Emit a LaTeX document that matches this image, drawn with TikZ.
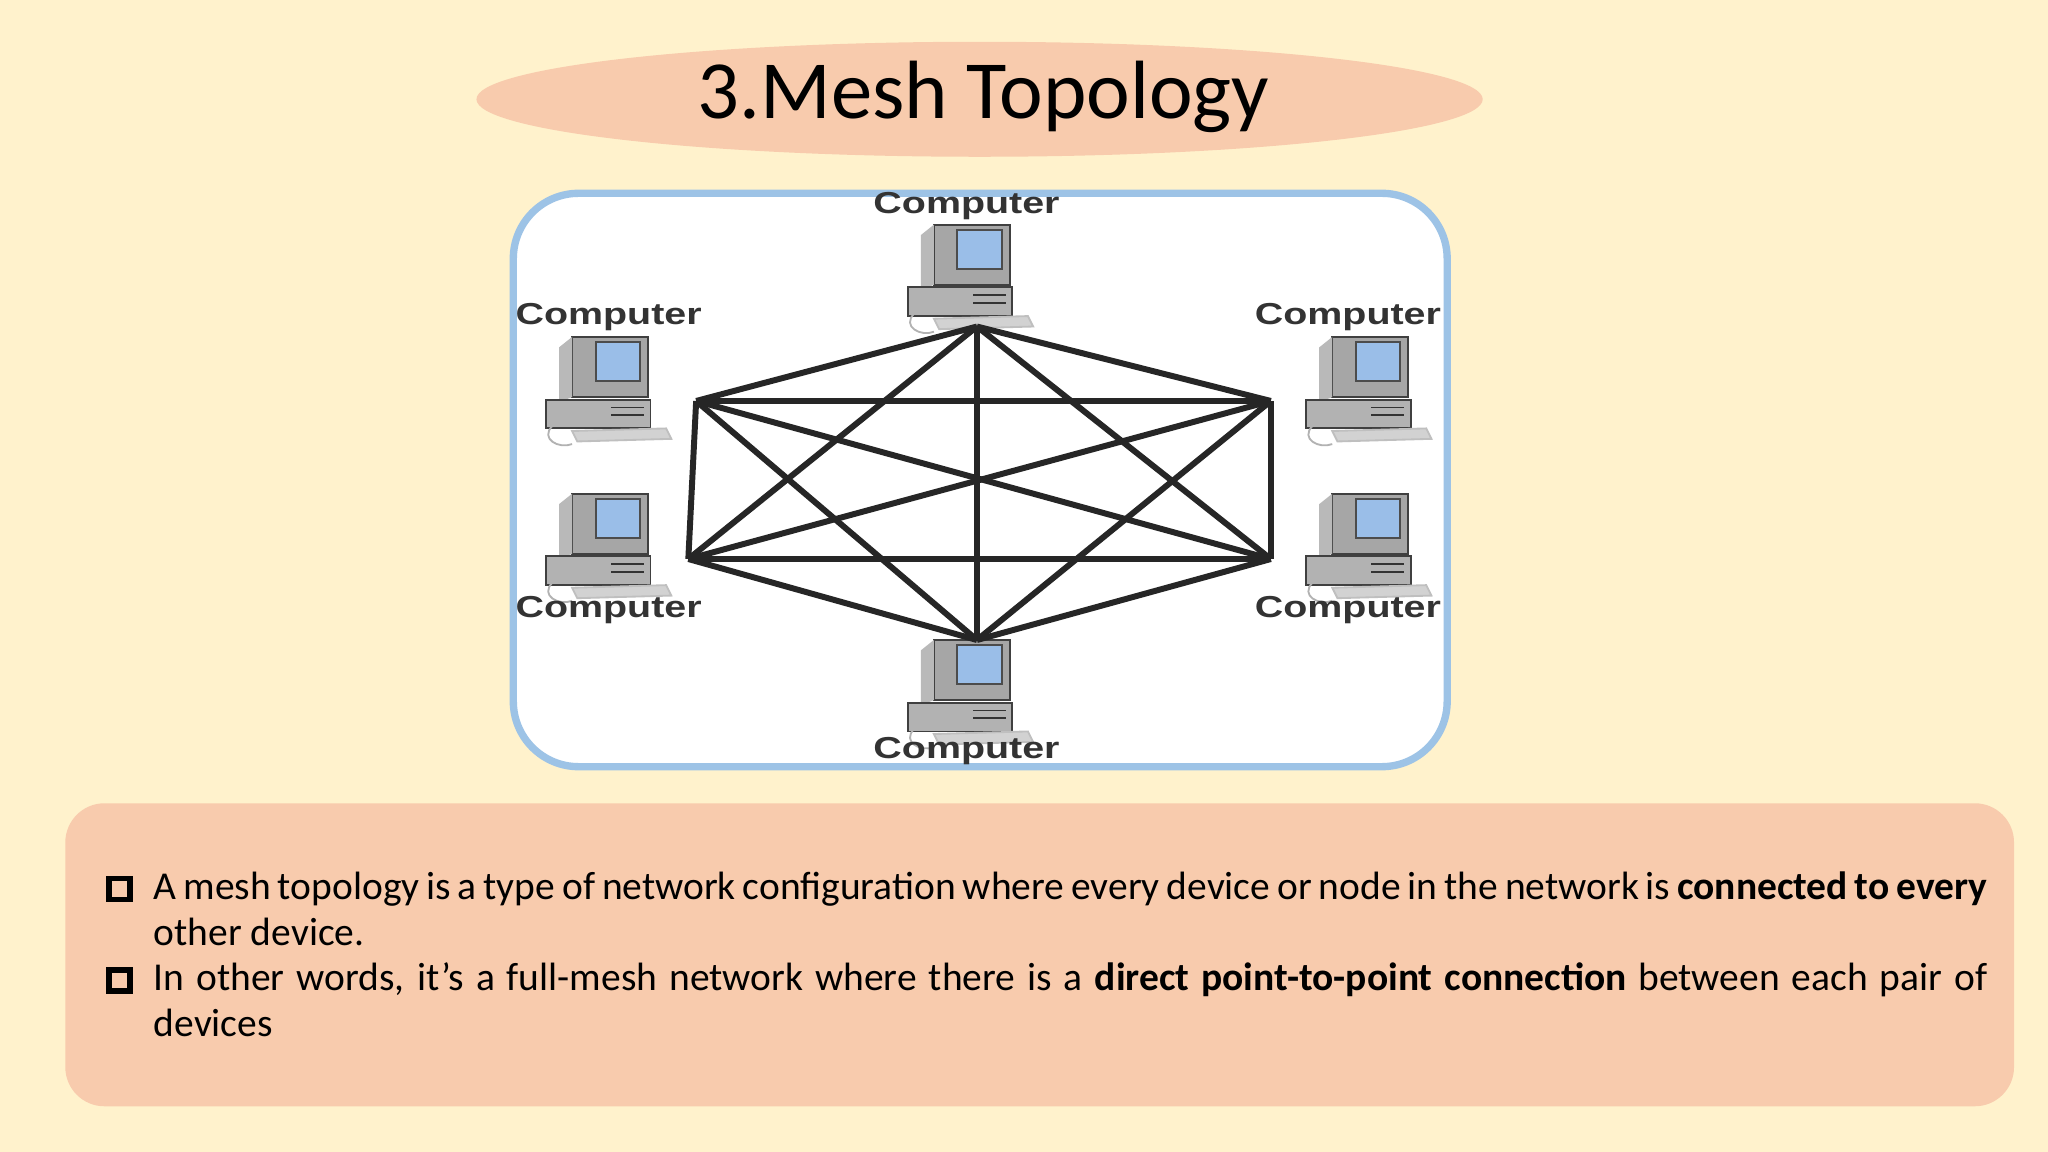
\documentclass[tikz,border=0pt]{standalone}
\usepackage{fontspec}
\setmainfont{Carlito}
\newfontfamily\labelfont{Liberation Sans}[FakeStretch=1.3]
\usepackage{enumitem}
\usetikzlibrary{shapes.geometric}
\definecolor{slidebg}{HTML}{FFF2CC}
\definecolor{peach}{HTML}{F8CBAD}
\definecolor{frameblue}{HTML}{9DC3E6}
\newcommand{\boxbullet}{\tikz[baseline=0pt]\draw[line width=1.2pt] (0cm,0cm) rectangle (0.16cm,0.16cm);}

\begin{document}
\begin{tikzpicture}
[x=0.01cm, y=-0.01cm,
 link/.style={line width=1.3pt, draw=black!85},
 label/.style={font=\labelfont\bfseries\fontsize{6.6}{7}\selectfont, text=black!80},
 computer/.pic={
   % monitor
   \fill[gray!70, draw=gray!50!black] (-30,-38) rectangle (28,8);
   \fill[cyan!60!blue!40, draw=gray!60!black] (-12,-34) rectangle (22,-4);
   \fill[gray!55] (-30,-38) -- (-40,-30) -- (-40,12) -- (-30,8) -- cycle;
   % case
   \fill[gray!60, draw=gray!50!black] (-50,10) rectangle (30,32);
   \draw[gray!40!black] (0,16) -- (25,16) (0,22) -- (25,22);
   % keyboard
   \fill[gray!35, draw=gray!50] (-30,34) -- (42,32) -- (46,40) -- (-26,42) -- cycle;
   \draw[gray!60] (-45,30) .. controls (-55,40) and (-40,48) .. (-30,44);
 }]
\useasboundingbox (0,0) rectangle (1568,882);
\fill[slidebg] (0,0) rectangle (1568,882);

% title
\node[ellipse, fill=peach, minimum width=7.7cm, minimum height=0.88cm,
      inner sep=0pt] (title) at (750,76) {};
\node[font=\fontsize{18}{20}\selectfont] (titletext) at (753,74) {3.Mesh Topology};

% diagram frame
\draw[line width=1.6pt, draw=frameblue, fill=white, rounded corners=0.5cm]
  (393,148) rectangle (1108,587);

% computers
\pic at (745,210) {computer};
\pic at (468,296) {computer};
\pic at (1050,296) {computer};
\pic at (468,416) {computer};
\pic at (1050,416) {computer};
\pic at (745,528) {computer};

% mesh points
\coordinate (top)   at (748,250);
\coordinate (lup)   at (533,307);
\coordinate (rup)   at (973,307);
\coordinate (llow)  at (527,428);
\coordinate (rlow)  at (973,428);
\coordinate (bot)   at (748,490);

\foreach \a/\b in {top/lup,top/rup,top/llow,top/rlow,top/bot,
                   lup/rup,lup/llow,lup/rlow,lup/bot,
                   rup/llow,rup/rlow,rup/bot,
                   llow/rlow,llow/bot,rlow/bot}
  \draw[link] (\a) -- (\b);

\node[label] (ltop)  at (740,158) {Computer};
\node[label] (llu)   at (466,243) {Computer};
\node[label] (lru)   at (1032,243) {Computer};
\node[label] (lll)   at (466,467) {Computer};
\node[label] (lrl)   at (1032,467) {Computer};
\node[label] (lbot)  at (740,575) {Computer};

% text box
\fill[peach, rounded corners=0.3cm] (50,615) rectangle (1542,847);
\node[text width=14.44cm, anchor=north west, align=justify,
      font=\fontsize{8.6}{9.95}\selectfont, inner sep=0pt] (desc) at (76,653) {%
  \begin{itemize}[label=\boxbullet, leftmargin=0.41cm, labelsep=0.16cm, topsep=0pt, itemsep=0pt, parsep=0pt]
  \item A mesh topology is a type of network configuration where every device or node in the network is \textbf{connected to every} other device.
  \item In other words, it's a full-mesh network where there is a \textbf{direct point-to-point connection} between each pair of devices
  \end{itemize}};
\end{tikzpicture}
\end{document}
